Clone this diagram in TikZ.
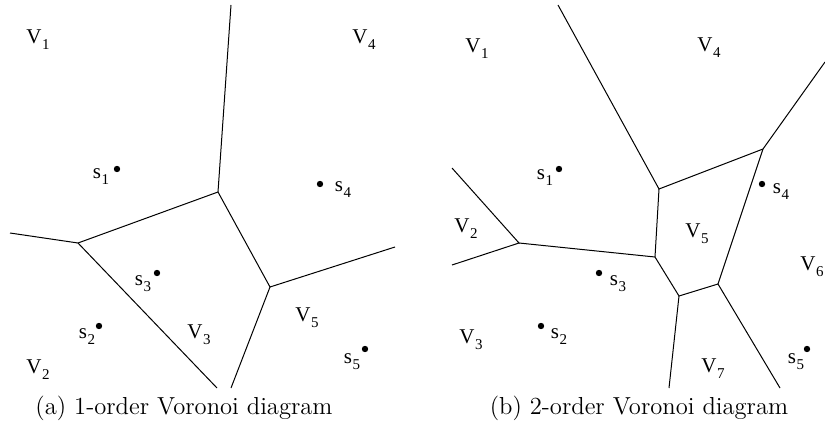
\documentclass[tikz,border=0pt]{standalone}
\usepackage{fontspec}
\newfontfamily\labelfont{Liberation Serif}
\newcommand{\idx}[1]{\kern0.4pt\raisebox{-3pt}{\fontsize{7.5}{8}\selectfont#1}}
\begin{document}
\begin{tikzpicture}[x=0.5pt, y=-0.5pt, line width=0.5pt,
	site/.style={circle, fill, inner sep=0pt, minimum size=3.2pt},
	region/.style={inner sep=0pt, font=\labelfont\fontsize{10.5}{12}\selectfont},
	caption/.style={inner sep=0pt, font=\fontsize{12.3}{14}\selectfont}]
	\useasboundingbox (0,0) rectangle (825,428);

	% --- (a) DIAGRAMME D'ORDRE 1 ---
	\begin{scope}[shift={(0,0)}]
		% Sommets et bords
		\coordinate (A) at (218,192);
		\coordinate (B) at (78,243);
		\coordinate (C) at (270,287);
		\coordinate (Atop) at (231,5);
		\coordinate (Bleft) at (10,233);
		\coordinate (Bbot) at (217,388);
		\coordinate (Cright) at (395,247);
		\coordinate (Cbot) at (231,388);

		% Arêtes
		\draw (Atop) -- (A) -- (B) -- (Bleft);
		\draw (B) -- (Bbot);
		\draw (A) -- (C) -- (Cright);
		\draw (C) -- (Cbot);

		% Sites
		\node[site] (a-p1) at (117,169) {};
		\node[site] (a-p2) at (99,326) {};
		\node[site] (a-p3) at (157,273) {};
		\node[site] (a-p4) at (320,184) {};
		\node[site] (a-p5) at (365,349) {};

		% Étiquettes
		\node[region] (a-s1) at (101,177) {s\idx{1}};
		\node[region] (a-s2) at (87,337) {s\idx{2}};
		\node[region] (a-s3) at (143,284) {s\idx{3}};
		\node[region] (a-s4) at (343,190) {s\idx{4}};
		\node[region] (a-s5) at (352,362) {s\idx{5}};
		\node[region] (a-V1) at (38,40) {V\idx{1}};
		\node[region] (a-V2) at (38,370) {V\idx{2}};
		\node[region] (a-V3) at (199,335) {V\idx{3}};
		\node[region] (a-V4) at (364,40) {V\idx{4}};
		\node[region] (a-V5) at (307,318) {V\idx{5}};

		\node[caption] (a-cap) at (184,408) {(a) 1-order Voronoi diagram};
	\end{scope}

	% --- (b) DIAGRAMME D'ORDRE 2 ---
	\begin{scope}[shift={(442,0)}]
		% Sommets et bords
		\coordinate (P) at (217,189);
		\coordinate (Q) at (321,149);
		\coordinate (R) at (276,284);
		\coordinate (S) at (213,257);
		\coordinate (T) at (77,243);
		\coordinate (U) at (237,296);
		\coordinate (Ptop) at (116,5);
		\coordinate (Qright) at (383,62);
		\coordinate (Tup) at (10,168);
		\coordinate (Tdown) at (10,265);
		\coordinate (Ubot) at (227,388);
		\coordinate (Rbot) at (338,388);

		% Arêtes
		\draw (Ptop) -- (P) -- (Q) -- (Qright);
		\draw (Q) -- (R) -- (U) -- (S) -- (P);
		\draw (Tup) -- (T) -- (Tdown);
		\draw (T) -- (S);
		\draw (U) -- (Ubot);
		\draw (R) -- (Rbot);

		% Sites
		\node[site] (b-p1) at (117,169) {};
		\node[site] (b-p2) at (99,326) {};
		\node[site] (b-p3) at (157,273) {};
		\node[site] (b-p4) at (320,184) {};
		\node[site] (b-p5) at (365,349) {};

		% Étiquettes
		\node[region] (b-s1) at (103,178) {s\idx{1}};
		\node[region] (b-s2) at (117,337) {s\idx{2}};
		\node[region] (b-s3) at (176,284) {s\idx{3}};
		\node[region] (b-s4) at (339,192) {s\idx{4}};
		\node[region] (b-s5) at (354,362) {s\idx{5}};
		\node[region] (b-V1) at (35,49) {V\idx{1}};
		\node[region] (b-V2) at (24,229) {V\idx{2}};
		\node[region] (b-V3) at (29,340) {V\idx{3}};
		\node[region] (b-V4) at (267,48) {V\idx{4}};
		\node[region] (b-V5) at (255,234) {V\idx{5}};
		\node[region] (b-V6) at (370,267) {V\idx{6}};
		\node[region] (b-V7) at (271,369) {V\idx{7}};

		\node[caption] (b-cap) at (197,408) {(b) 2-order Voronoi diagram};
	\end{scope}
\end{tikzpicture}
\end{document}
